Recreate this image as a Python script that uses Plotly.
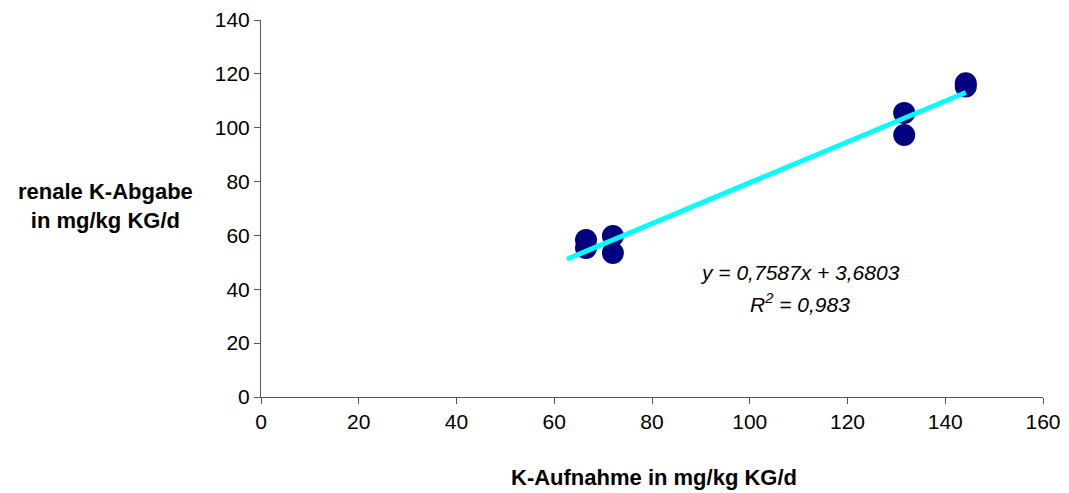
import plotly.graph_objects as go

# Potassium intake vs. renal potassium excretion (mg/kg KG/d)
k_intake = [66.5, 66.5, 72.0, 72.0, 131.6, 131.6, 144.2, 144.2]
k_renal = [58.3, 55.3, 59.8, 53.5, 105.5, 97.3, 115.3, 116.5]

# Linear trendline parameters
slope = 0.7587
intercept = 3.6803
r_squared = 0.983
trend_x = [62.6, 144.2]
trend_y = [slope * x + intercept for x in trend_x]

x_ticks = [0, 20, 40, 60, 80, 100, 120, 140, 160]
y_ticks = [0, 20, 40, 60, 80, 100, 120, 140]

font_family = "Liberation Sans, Arial, sans-serif"

fig = go.Figure()
fig.add_trace(go.Scatter(
    x=k_intake, y=k_renal, mode="markers",
    marker=dict(color="#000080", size=22, line=dict(width=0)),
    showlegend=False,
))
fig.add_trace(go.Scatter(
    x=trend_x, y=trend_y, mode="lines",
    line=dict(color="#00FFFF", width=5),
    showlegend=False,
))

fig.update_layout(
    width=1069, height=493,
    margin=dict(l=261, r=26, t=20, b=96, autoexpand=False),
    paper_bgcolor="white", plot_bgcolor="white",
    font=dict(family=font_family, size=21, color="black"),
    xaxis=dict(
        range=[0, 160], tickvals=x_ticks, showgrid=False, zeroline=False,
        showline=True, linecolor="#555555", linewidth=1,
        ticks="outside", ticklen=6, tickcolor="#555555",
        tickfont=dict(size=21), automargin=False,
    ),
    yaxis=dict(
        range=[0, 140], tickvals=y_ticks, showgrid=False, zeroline=False,
        showline=True, linecolor="#555555", linewidth=1,
        ticks="outside", ticklen=6, tickcolor="#555555",
        tickfont=dict(size=21), automargin=False,
    ),
    annotations=[
        dict(text="<b>K-Aufnahme in mg/kg KG/d</b>", xref="paper", yref="paper",
             x=(654 - 261) / (1043 - 261), y=-(477 - 397) / 377,
             xanchor="center", yanchor="middle", showarrow=False,
             font=dict(size=22)),
        dict(text="<b>renale K-Abgabe<br>in mg/kg KG/d</b>", xref="paper", yref="paper",
             x=-(261 - 105) / (1043 - 261), y=(397 - 206) / 377,
             xanchor="center", yanchor="middle", align="center", showarrow=False,
             font=dict(size=22)),
        dict(text=f"<i>y = {slope:.4f}x + {intercept:.4f}</i>".replace(".", ","),
             x=110.3, y=46.2, showarrow=False, xanchor="center", yanchor="middle",
             font=dict(size=21)),
        dict(text=f"<i>R<sup>2</sup> = {r_squared:.3f}</i>".replace(".", ","),
             x=110.3, y=35.0, showarrow=False, xanchor="center", yanchor="middle",
             font=dict(size=21)),
    ],
)

fig.write_html("out.html")
